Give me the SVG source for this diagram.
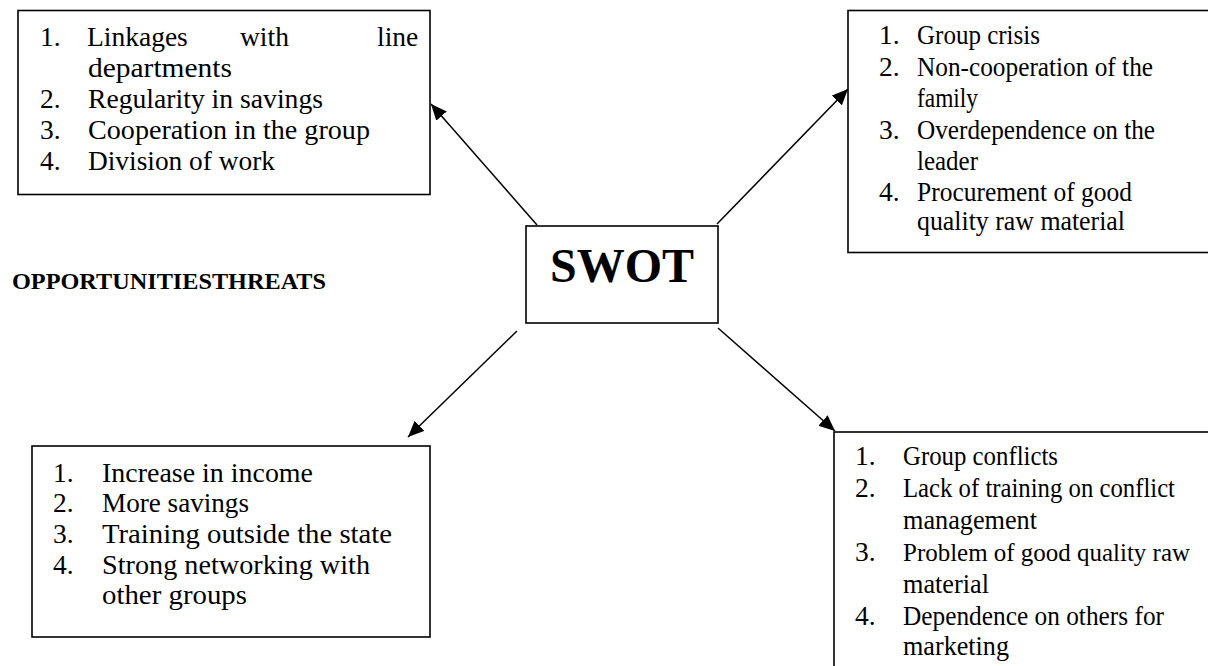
<svg xmlns="http://www.w3.org/2000/svg" width="1208" height="666" viewBox="0 0 1208 666">
<style>
.box{fill:#fff;stroke:#000;stroke-width:1.6}
.t{font-family:"Liberation Serif","Times New Roman",serif;font-size:27.5px;fill:#000}
.b{font-family:"Liberation Serif","Times New Roman",serif;font-weight:bold;fill:#000}
.c{stroke:#000;stroke-width:1.5;fill:none}
</style>
<defs>
<marker id="ah" markerUnits="userSpaceOnUse" markerWidth="17" markerHeight="14" viewBox="0 0 17 14" refX="16" refY="7" orient="auto">
<path d="M0,0 L16,7 L0,14 Z" fill="#000"/>
</marker>
</defs>
<rect width="1208" height="666" fill="#fff"/>
<g id="strengths">
<rect class="box" x="18" y="10.5" width="412" height="184"/>
<text class="t" x="40" y="46">1.</text>
<text class="t" x="87" y="46">Linkages</text>
<text class="t" x="240" y="46">with</text>
<text class="t" x="377" y="46">line</text>
<text class="t" x="88" y="77" textLength="144" lengthAdjust="spacingAndGlyphs">departments</text>
<text class="t" x="40" y="108">2.</text>
<text class="t" x="88" y="108" textLength="235" lengthAdjust="spacingAndGlyphs">Regularity in savings</text>
<text class="t" x="40" y="139">3.</text>
<text class="t" x="88" y="139" textLength="282" lengthAdjust="spacingAndGlyphs">Cooperation in the group</text>
<text class="t" x="40" y="170">4.</text>
<text class="t" x="88" y="170" textLength="187" lengthAdjust="spacingAndGlyphs">Division of work</text>
</g>
<g id="weaknesses">
<rect class="box" x="848" y="10.5" width="380" height="242"/>
<text class="t" x="879" y="44">1.</text>
<text class="t" x="917" y="44" textLength="123" lengthAdjust="spacingAndGlyphs">Group crisis</text>
<text class="t" x="879" y="76">2.</text>
<text class="t" x="917" y="76" textLength="236" lengthAdjust="spacingAndGlyphs">Non-cooperation of the</text>
<text class="t" x="917" y="107" textLength="61" lengthAdjust="spacingAndGlyphs">family</text>
<text class="t" x="879" y="139">3.</text>
<text class="t" x="917" y="139" textLength="238" lengthAdjust="spacingAndGlyphs">Overdependence on the</text>
<text class="t" x="917" y="170" textLength="61" lengthAdjust="spacingAndGlyphs">leader</text>
<text class="t" x="879" y="201">4.</text>
<text class="t" x="917" y="201" textLength="215" lengthAdjust="spacingAndGlyphs">Procurement of good</text>
<text class="t" x="917" y="230" textLength="208" lengthAdjust="spacingAndGlyphs">quality raw material</text>
</g>
<g id="swot">
<rect class="box" x="526" y="226" width="192" height="97"/>
<text class="b" x="622" y="282" font-size="48" text-anchor="middle">SWOT</text>
</g>
<g id="heading">
<text class="b" x="12" y="289" font-size="24" textLength="314" lengthAdjust="spacingAndGlyphs">OPPORTUNITIESTHREATS</text>
</g>
<g id="opportunities">
<rect class="box" x="32" y="446" width="398" height="191"/>
<text class="t" x="53" y="482">1.</text>
<text class="t" x="102" y="482" textLength="211" lengthAdjust="spacingAndGlyphs">Increase in income</text>
<text class="t" x="53" y="512">2.</text>
<text class="t" x="102" y="512" textLength="147" lengthAdjust="spacingAndGlyphs">More savings</text>
<text class="t" x="53" y="543">3.</text>
<text class="t" x="102" y="543" textLength="290" lengthAdjust="spacingAndGlyphs">Training outside the state</text>
<text class="t" x="53" y="574">4.</text>
<text class="t" x="102" y="574" textLength="268" lengthAdjust="spacingAndGlyphs">Strong networking with</text>
<text class="t" x="102" y="604" textLength="145" lengthAdjust="spacingAndGlyphs">other groups</text>
</g>
<g id="threats">
<rect class="box" x="834" y="432" width="400" height="260"/>
<text class="t" x="855" y="465">1.</text>
<text class="t" x="903" y="465" textLength="155" lengthAdjust="spacingAndGlyphs">Group conflicts</text>
<text class="t" x="855" y="497">2.</text>
<text class="t" x="903" y="497" textLength="272" lengthAdjust="spacingAndGlyphs">Lack of training on conflict</text>
<text class="t" x="903" y="529" textLength="134" lengthAdjust="spacingAndGlyphs">management</text>
<text class="t" x="855" y="561">3.</text>
<text class="t" x="903" y="561" style="font-size:25.5px" textLength="287" lengthAdjust="spacingAndGlyphs">Problem of good quality raw</text>
<text class="t" x="903" y="593" textLength="86" lengthAdjust="spacingAndGlyphs">material</text>
<text class="t" x="855" y="625">4.</text>
<text class="t" x="903" y="625" textLength="261" lengthAdjust="spacingAndGlyphs">Dependence on others for</text>
<text class="t" x="903" y="655" textLength="106" lengthAdjust="spacingAndGlyphs">marketing</text>
</g>
<g id="connectors">
<line class="c" x1="537" y1="225" x2="431" y2="104" marker-end="url(#ah)"/>
<line class="c" x1="717" y1="224" x2="848" y2="89" marker-end="url(#ah)"/>
<line class="c" x1="517" y1="331" x2="408" y2="437" marker-end="url(#ah)"/>
<line class="c" x1="718" y1="328" x2="835" y2="431" marker-end="url(#ah)"/>
</g>
</svg>
